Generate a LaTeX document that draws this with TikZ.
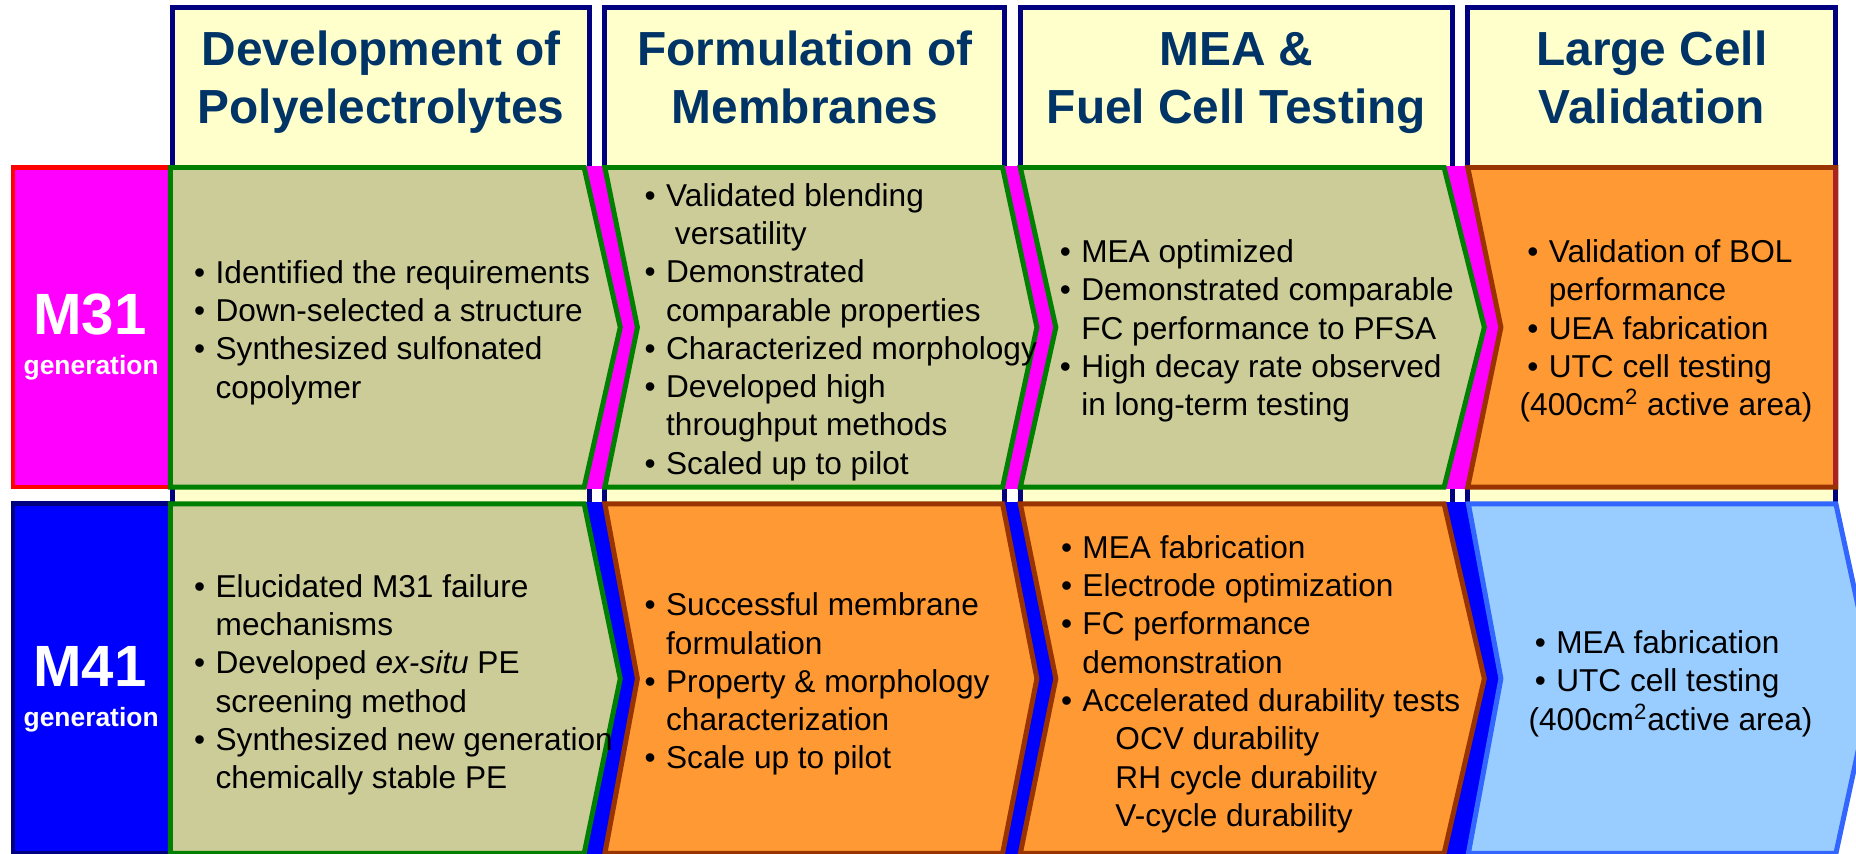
\documentclass[tikz,border=0pt]{standalone}
\usepackage{fontspec}
\setmainfont{Liberation Sans}
\definecolor{hdrfill}{HTML}{FFFFCC}
\definecolor{hdrline}{HTML}{000080}
\definecolor{hdrtext}{HTML}{003366}
\definecolor{khaki}{HTML}{CCCC99}
\definecolor{leaf}{HTML}{008000}
\definecolor{amber}{HTML}{FF9933}
\definecolor{rust}{HTML}{993300}
\definecolor{brick}{HTML}{AA2222}
\definecolor{sky}{HTML}{99CCFF}
\definecolor{skyline}{HTML}{3366FF}
\definecolor{fuchsia}{RGB}{255,0,255}
\definecolor{pureblue}{RGB}{0,0,255}
\definecolor{purered}{RGB}{255,0,0}
\newcommand{\bul}{\makebox[0.68em][l]{\textbullet}}
\newcommand{\ind}{\hspace*{0.68em}}

\begin{document}
\begin{tikzpicture}[x=0.02cm,y=-0.02cm,line join=miter,
    hdr/.style={draw=hdrline,fill=hdrfill,line width=2.4pt},
    olive/.style={draw=leaf,fill=khaki,line width=2.4pt},
    amberbox/.style={draw=rust,fill=amber,line width=2.4pt},
    skybox/.style={draw=skyline,fill=sky,line width=2.4pt},
    head/.style={inner sep=0pt,align=center,text=hdrtext,font={\fontsize{23}{28.2}\selectfont\bfseries}},
    body/.style={anchor=west,inner sep=0pt,align=left,font={\fontsize{15.2}{18.4}\selectfont}},
    gen/.style={anchor=base,inner sep=0pt,text=white,font={\fontsize{28}{30}\selectfont\bfseries}},
    gensub/.style={anchor=base,inner sep=0pt,text=white,font={\fontsize{12.7}{14}\selectfont\bfseries}}]
\useasboundingbox (0,0) rectangle (1568,721);
\clip (0,0) rectangle (1568,721);
\fill[white] (0,0) rectangle (1568,721);

% column heads, running down behind both rows
\draw[hdr] (146,6.3) rectangle (498,740);
\draw[hdr] (511,6.3) rectangle (848.5,740);
\draw[hdr] (862,6.3) rectangle (1227,740);
\draw[hdr] (1240,6.3) rectangle (1551,740);
\node[head] (dev) at (322,70) {\strut Development of\\Polyelectrolytes\strut};
\node[head] (form) at (680,70) {\strut Formulation of\\Membranes\strut};
\node[head] (mea) at (1044.5,70) {\strut MEA \&\\Fuel Cell Testing\strut};
\node[head] (large) at (1395.5,70) {\strut Large Cell\\Validation\strut};

% M31 row
\fill[fuchsia] (145,140) rectangle (1551,413);
\draw[draw=purered,fill=fuchsia,line width=2.2pt] (11,141.5) rectangle (145,411.5);
\draw[olive] (144,141.5)--(493.5,141.5)--(524,276.5)--(493.5,411.5)--(144,411.5)--cycle;
\draw[olive] (511,141.5)--(847,141.5)--(876,276.5)--(847,411.5)--(511,411.5)--(538.5,276.5)--cycle;
\draw[olive] (862,141.5)--(1220,141.5)--(1254,276.5)--(1220,411.5)--(862,411.5)--(892,276.5)--cycle;
\draw[amberbox] (1240,141.5)--(1551,141.5)--(1551,411.5)--(1240,411.5)--(1268,276.5)--cycle;
\draw[brick,line width=2.4pt] (1551,143)--(1551,410);

% M41 row
\fill[pureblue] (145,424) rectangle (1551,722);
\draw[draw=hdrline,fill=pureblue,line width=2.2pt] (11,425.6) rectangle (145,721);
\draw[olive] (144,425.6)--(493.5,425.6)--(524,573.3)--(493.5,721)--(144,721)--cycle;
\draw[amberbox] (511,425.6)--(847,425.6)--(876,573.3)--(847,721)--(511,721)--(538.5,573.3)--cycle;
\draw[amberbox] (862,425.6)--(1220,425.6)--(1254,573.3)--(1220,721)--(862,721)--(892,573.3)--cycle;
\draw[skybox] (1240.5,425.6)--(1551,425.6)--(1583,573.3)--(1551,721)--(1240.5,721)--(1268,573.3)--cycle;

\node[gen] (m31) at (76,283) {M31};
\node[gensub] (m31gen) at (77,316.5) {generation};
\node[gen] (m41) at (76,580) {M41};
\node[gensub] (m41gen) at (77,613.5) {generation};

\node[body] (req) at (163.7,281) {\bul Identified the requirements\\\bul Down-selected a structure\\\bul Synthesized sulfonated\\\ind copolymer};
\node[body] (blend) at (544.3,280.5) {\bul Validated blending\\\ind\ versatility\\\bul Demonstrated\\\ind comparable properties\\\bul Characterized morphology\\\bul Developed high\\\ind throughput methods\\\bul Scaled up to pilot};
\node[body] (opt) at (895,279.5) {\bul MEA optimized\\\bul Demonstrated comparable\\\ind FC performance to PFSA\\\bul High decay rate observed\\\ind in long-term testing};
\node[body] (bol) at (1290,279.5) {\bul Validation of BOL\\\ind performance\\\bul UEA fabrication\\\bul UTC cell testing\\\hspace*{-3.7pt}(400cm\textsuperscript{2} active area)};

\node[body] (fail) at (163.7,578.5) {\bul Elucidated M31 failure\\\ind mechanisms\\\bul Developed \textit{ex-situ} PE\\\ind screening method\\\bul Synthesized new generation\\\ind chemically stable PE};
\node[body] (memb) at (544.3,578) {\bul Successful membrane\\\ind formulation\\\bul Property \& morphology\\\ind characterization\\\bul Scale up to pilot};
\node[body] (fab) at (896,578) {\bul MEA fabrication\\\bul Electrode optimization\\\bul FC performance\\\ind demonstration\\\bul Accelerated durability tests\\\hspace*{26.2pt}OCV durability\\\hspace*{26.2pt}RH cycle durability\\\hspace*{26.2pt}V-cycle durability};
\node[body] (utc) at (1296.3,577.5) {\bul MEA fabrication\\\bul UTC cell testing\\\hspace*{-3pt}(400cm\textsuperscript{2}active area)};
\end{tikzpicture}
\end{document}
